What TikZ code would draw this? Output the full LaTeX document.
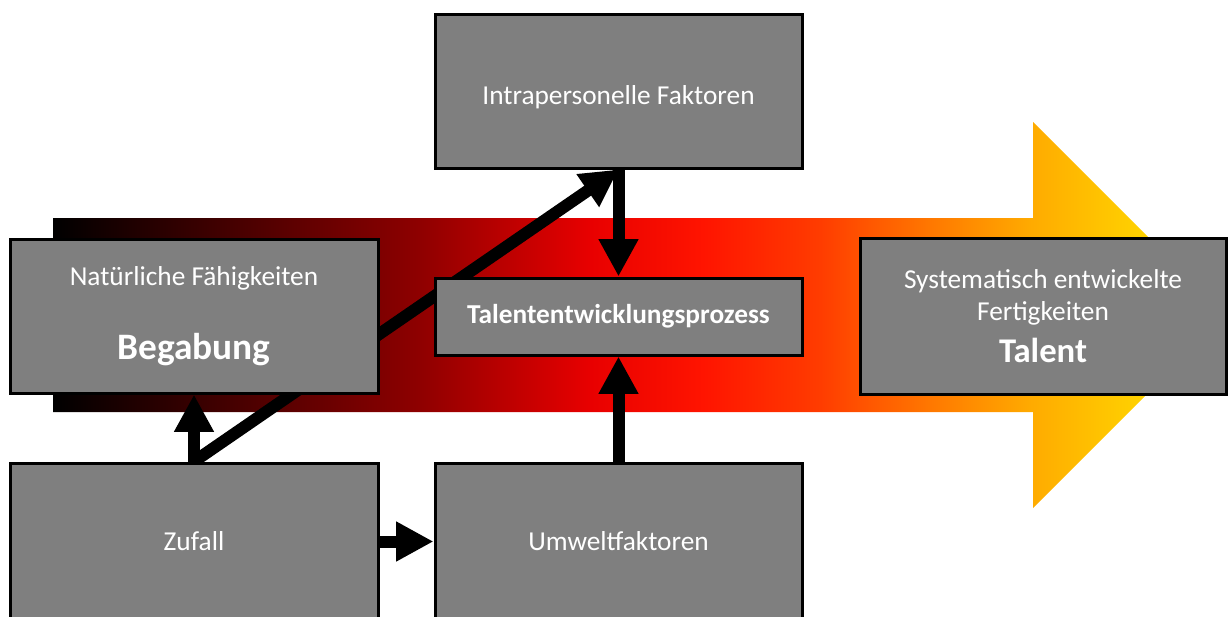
\documentclass[tikz,border=0pt]{standalone}
\usepackage{fontspec}
\setmainfont{Carlito}
\usetikzlibrary{arrows.meta}

\definecolor{boxgray}{HTML}{7F7F7F}
\definecolor{bardark}{HTML}{8E0000}
\definecolor{barred}{HTML}{E80000}
\definecolor{barredb}{HTML}{FF1400}
\definecolor{barorangea}{HTML}{FF3C00}
\definecolor{barorangeb}{HTML}{FF7800}
\definecolor{barorangec}{HTML}{FFAA00}
\definecolor{baryellow}{HTML}{FFD400}

\pgfdeclarehorizontalshading{talentbar}{100bp}{color(0bp)=(black); color(25bp)=(black);
  color(40.6bp)=(bardark); color(47.9bp)=(barred); color(52.7bp)=(barredb);
  color(57.7bp)=(barorangea); color(62.4bp)=(barorangeb); color(66.6bp)=(barorangec);
  color(71.7bp)=(baryellow); color(100bp)=(baryellow)}

\pgfdeclarelayer{back}
\pgfdeclarelayer{mid}
\pgfsetlayers{back,mid,main}

\tikzset{
  box/.style={draw=black, line width=2.25pt, fill=boxgray, text=white, inner sep=0pt,
    align=center, font=\fontsize{20.5}{24.5}\selectfont},
  conn/.style={line width=9pt, -{Triangle[length=28pt,width=28pt]}}
}

\begin{document}
\begin{tikzpicture}[x=0.75pt,y=-0.75pt]
\useasboundingbox (0,0) rectangle (1228,617);

\begin{pgfonlayer}{back}
\shade[shading=talentbar] (53,218) -- (1033,218) -- (1033,122) -- (1226,315)
  -- (1033,508) -- (1033,412) -- (53,412) -- cycle;
\end{pgfonlayer}

\node[box, text height=23pt, text depth=4pt, minimum width=275.25pt, minimum height=114.75pt] (intra) at (618.5,91.5) {Intrapersonelle Faktoren};
\node[box, font=\fontsize{20.5}{24.5}\selectfont\bfseries, minimum width=275.25pt, minimum height=57.75pt] (prozess) at (618.5,316.5) {Talententwicklungsprozess};
\node[box, minimum width=276pt, minimum height=115.5pt] (begabung) at (194,316) {Natürliche Fähigkeiten\\[31pt]{\fontsize{28}{34}\selectfont\bfseries Begabung}};
\node[box, minimum width=276pt, minimum height=117.75pt] (zufall) at (194,541.5) {Zufall};
\node[box, minimum width=275.25pt, minimum height=117.75pt] (umwelt) at (618.5,541.5) {Umweltfaktoren};
\node[box, minimum width=274.5pt, minimum height=117pt] (talent) at (1043,316) {Systematisch entwickelte\\Fertigkeiten\\[7pt]{\fontsize{26}{31}\selectfont\bfseries Talent}};

\begin{pgfonlayer}{mid}
\draw[conn] (zufall.north) -- (begabung.south);
\draw[conn] (zufall.north) -- (intra.south);
\draw[conn] (intra.south) -- (prozess.north);
\draw[conn] (umwelt.north) -- (prozess.south);
\draw[conn] (zufall.east) -- (umwelt.west);
\end{pgfonlayer}
\end{tikzpicture}
\end{document}
